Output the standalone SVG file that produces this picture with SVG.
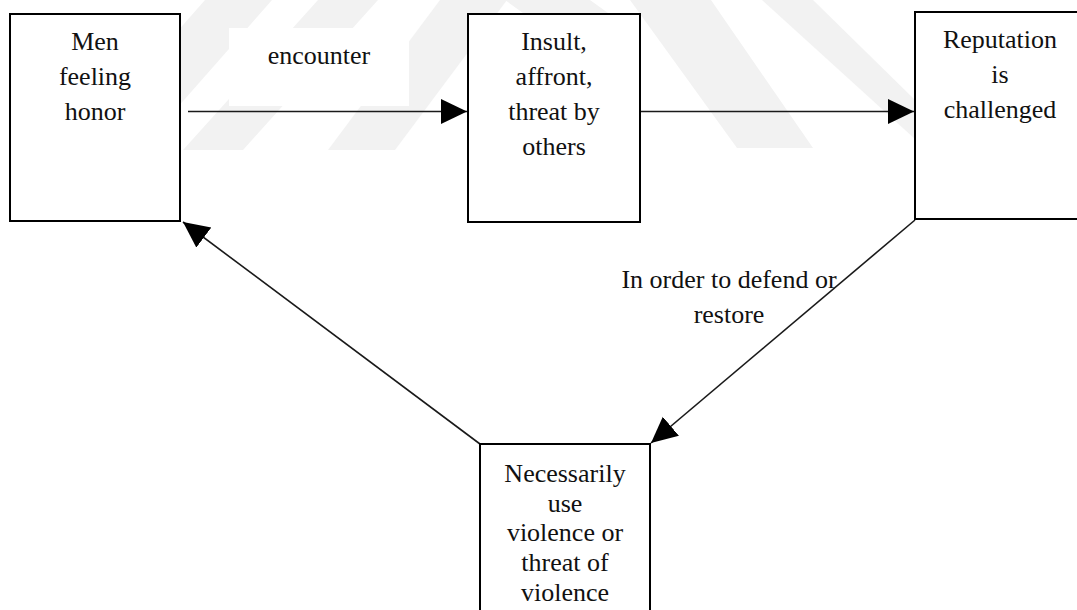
<svg xmlns="http://www.w3.org/2000/svg" width="1077" height="610" viewBox="0 0 1077 610">
  <style>
    .bg { fill: #ffffff; }
    .mark { fill: #f2f2f2; }
    .box { fill: #ffffff; stroke: #000000; stroke-width: 2; }
    .label { font-family: "Liberation Serif", "Times New Roman", serif; font-size: 26px; fill: #111111; text-anchor: middle; }
    .edge { fill: none; stroke: #1a1a1a; stroke-width: 1.6; }
  </style>
  <defs>
    <marker id="arrow" markerUnits="userSpaceOnUse" markerWidth="28" markerHeight="26" refX="26" refY="12.5" orient="auto">
      <path d="M0,0 L26,12.5 L0,25 Z" fill="#000000"/>
    </marker>
  </defs>

  <rect class="bg" x="0" y="0" width="1077" height="610"/>

  <!-- faint background emblem stripes -->
  <g id="emblem">
    <polygon class="mark" points="205,0 272,0 140,150 73,150"/>
    <polygon class="mark" points="318,0 378,0 243,150 183,150"/>
    <polygon class="mark" points="440,0 507,0 395,150 328,150"/>
    <polygon class="mark" points="505,0 590,0 640,36 555,36"/>
    <polygon class="mark" points="630,0 711,0 813,148 737,148"/>
    <polygon class="mark" points="762,0 813,0 915,100 915,139"/>
  </g>

  <!-- connectors -->
  <g id="connectors">
    <line class="edge" x1="188" y1="111.5" x2="467" y2="111.5" marker-end="url(#arrow)"/>
    <line class="edge" x1="640" y1="111.5" x2="914" y2="111.5" marker-end="url(#arrow)"/>
    <line class="edge" x1="915" y1="220" x2="651" y2="443" marker-end="url(#arrow)"/>
    <line class="edge" x1="480" y1="444" x2="183" y2="222" marker-end="url(#arrow)"/>
  </g>

  <!-- edge labels -->
  <g id="label-encounter">
    <rect x="229" y="28" width="180" height="78" fill="#ffffff"/>
    <text class="label" x="319" y="64">encounter</text>
  </g>
  <g id="label-defend">
    <text class="label" x="729" y="288">In order to defend or</text>
    <text class="label" x="729" y="323">restore</text>
  </g>

  <!-- nodes -->
  <g id="node-honor">
    <rect class="box" x="10" y="14" width="170" height="207"/>
    <text class="label" x="95" y="50">Men</text>
    <text class="label" x="95" y="85">feeling</text>
    <text class="label" x="95" y="120">honor</text>
  </g>

  <g id="node-insult">
    <rect class="box" x="468" y="14" width="172" height="208"/>
    <text class="label" x="554" y="50">Insult,</text>
    <text class="label" x="554" y="85">affront,</text>
    <text class="label" x="554" y="120">threat by</text>
    <text class="label" x="554" y="155">others</text>
  </g>

  <g id="node-reputation">
    <rect class="box" x="915" y="12" width="170" height="207"/>
    <text class="label" x="1000" y="48">Reputation</text>
    <text class="label" x="1000" y="83">is</text>
    <text class="label" x="1000" y="118">challenged</text>
  </g>

  <g id="node-violence">
    <rect class="box" x="480" y="444" width="170" height="180"/>
    <text class="label" x="565" y="482">Necessarily</text>
    <text class="label" x="565" y="512">use</text>
    <text class="label" x="565" y="541">violence or</text>
    <text class="label" x="565" y="571">threat of</text>
    <text class="label" x="565" y="601">violence</text>
  </g>
</svg>
